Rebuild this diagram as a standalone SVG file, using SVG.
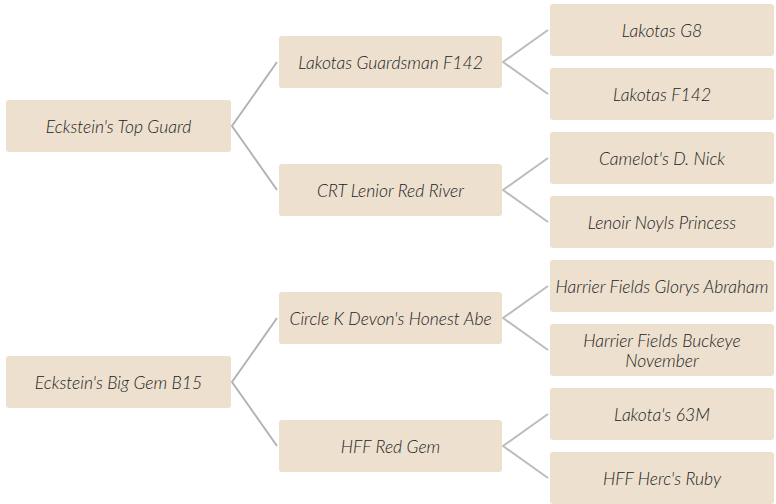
<svg xmlns="http://www.w3.org/2000/svg" width="776" height="504" viewBox="0 0 776 504">
<style>
.box{fill:#ede0cf;}
.t{font-family:Lato,"Open Sans","Liberation Sans",sans-serif;font-style:italic;font-weight:300;font-size:17.5px;fill:#222;text-anchor:middle;dominant-baseline:central;}
.c{fill:none;stroke:#bdbdbd;stroke-width:2;}
.c1{fill:none;stroke:#b3b3b3;stroke-width:2;}
</style>
<rect width="776" height="504" fill="#fff"/>
<g id="connectors">
<polyline class="c1" points="277,62 232,126 277,190"/>
<polyline class="c1" points="277,318 232,382 277,446"/>
<polyline class="c" points="548,30 503,62 548,94"/>
<polyline class="c" points="548,158 503,190 548,222"/>
<polyline class="c" points="548,286 503,318 548,350"/>
<polyline class="c" points="548,414 503,446 548,478"/>
</g>
<g id="root1"><rect class="box" x="6" y="100" width="225" height="52" rx="3"/><text class="t" x="118.5" y="126">Eckstein's Top Guard</text></g>
<g id="root2"><rect class="box" x="6" y="356" width="225" height="52" rx="3"/><text class="t" x="118.5" y="382">Eckstein's Big Gem B15</text></g>
<g id="mid1"><rect class="box" x="279" y="36" width="223" height="52" rx="3"/><text class="t" x="390.5" y="62">Lakotas Guardsman F142</text></g>
<g id="mid2"><rect class="box" x="279" y="164" width="223" height="52" rx="3"/><text class="t" x="390.5" y="190">CRT Lenior Red River</text></g>
<g id="mid3"><rect class="box" x="279" y="292" width="223" height="52" rx="3"/><text class="t" x="390.5" y="318">Circle K Devon's Honest Abe</text></g>
<g id="mid4"><rect class="box" x="279" y="420" width="223" height="52" rx="3"/><text class="t" x="390.5" y="446">HFF Red Gem</text></g>
<g id="leaf1"><rect class="box" x="550" y="4" width="224" height="52" rx="3"/><text class="t" x="662" y="30">Lakotas G8</text></g>
<g id="leaf2"><rect class="box" x="550" y="68" width="224" height="52" rx="3"/><text class="t" x="662" y="94">Lakotas F142</text></g>
<g id="leaf3"><rect class="box" x="550" y="132" width="224" height="52" rx="3"/><text class="t" x="662" y="158">Camelot's D. Nick</text></g>
<g id="leaf4"><rect class="box" x="550" y="196" width="224" height="52" rx="3"/><text class="t" x="662" y="222">Lenoir Noyls Princess</text></g>
<g id="leaf5"><rect class="box" x="550" y="260" width="224" height="52" rx="3"/><text class="t" x="662" y="286">Harrier Fields Glorys Abraham</text></g>
<g id="leaf6"><rect class="box" x="550" y="324" width="224" height="52" rx="3"/><text class="t" x="662" y="340.5">Harrier Fields Buckeye</text><text class="t" x="662" y="360">November</text></g>
<g id="leaf7"><rect class="box" x="550" y="388" width="224" height="52" rx="3"/><text class="t" x="662" y="414">Lakota's 63M</text></g>
<g id="leaf8"><rect class="box" x="550" y="452" width="224" height="52" rx="3"/><text class="t" x="662" y="478">HFF Herc's Ruby</text></g>
</svg>
